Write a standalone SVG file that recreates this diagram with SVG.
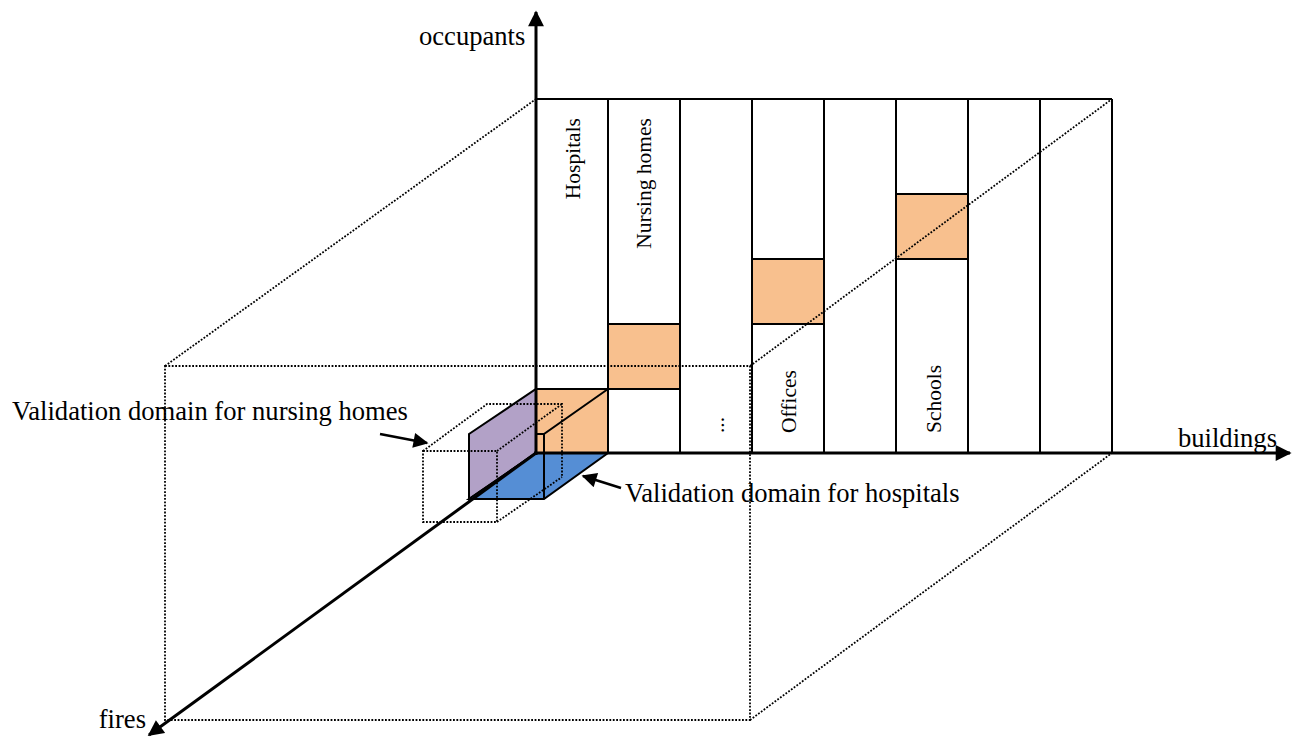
<svg xmlns="http://www.w3.org/2000/svg" width="1299" height="738" viewBox="0 0 1299 738">
  <style>
    .lbl { font-family: "Liberation Serif", "Times New Roman", serif; font-size: 26.6px; fill: #000; }
    .col { font-family: "Liberation Serif", "Times New Roman", serif; font-size: 21.5px; fill: #000; }
    .grid { stroke: #000; stroke-width: 2; fill: none; }
    .cell { fill: #F8C08E; stroke: #000; stroke-width: 2; }
    .dot { stroke: #000; stroke-width: 1.8; stroke-dasharray: 1.8 1.6; fill: none; }
    .axis { stroke: #000; stroke-width: 3; fill: none; }
    .edge { stroke: #000; stroke-width: 2; fill: none; }
  </style>
  <defs>
    <marker id="head" viewBox="0 0 10 10" refX="9" refY="5" markerWidth="5.5" markerHeight="5.3" orient="auto" markerUnits="strokeWidth">
      <path d="M0,0 L10,5 L0,10 Z" fill="#000"/>
    </marker>
    <marker id="headSmall" viewBox="0 0 10 10" refX="9" refY="5" markerWidth="6.5" markerHeight="6" orient="auto" markerUnits="strokeWidth">
      <path d="M0,0 L10,5 L0,10 Z" fill="#000"/>
    </marker>
  </defs>

  <rect width="1299" height="738" fill="#fff"/>

  <!-- building-type columns -->
  <g id="grid">
    <rect x="536" y="99" width="576" height="354" fill="#fff"/>
    <rect class="cell" x="536" y="389" width="72" height="64"/>
    <rect class="cell" x="608" y="324" width="72" height="65"/>
    <rect class="cell" x="752" y="259" width="72" height="65"/>
    <rect class="cell" x="896" y="194" width="72" height="65"/>
    <path class="grid" d="M536,99 H1112 M608,99 V453 M680,99 V453 M752,99 V453 M824,99 V453 M896,99 V453 M968,99 V453 M1040,99 V453 M1112,99 V453"/>
  </g>

  <g id="column-labels">
    <text class="col" transform="translate(580,118) rotate(-90)" text-anchor="end">Hospitals</text>
    <text class="col" transform="translate(651,118) rotate(-90)" text-anchor="end">Nursing homes</text>
    <text class="col" transform="translate(724,433) rotate(-90)">...</text>
    <text class="col" transform="translate(796,433) rotate(-90)">Offices</text>
    <text class="col" transform="translate(941,433) rotate(-90)">Schools</text>
  </g>

  <!-- validation domain for hospitals (solid box) -->
  <g id="hospitals-domain">
    <polygon points="469,434 536,389 536,453 469,499" fill="#B2A1C7" stroke="#000" stroke-width="2"/>
    <polygon points="536,453 608,453 544,499 469,499" fill="#558ED5" stroke="#000" stroke-width="2"/>
    <path class="edge" d="M608,389 L544,434 V499 M536,434 H544"/>
  </g>

  <!-- outer domain frame -->
  <g id="domain-frame">
    <path class="dot" d="M165,366 H750 V720 H165 Z"/>
    <path class="dot" d="M165,366 L536,99 M750,366 L1112,99 M750,720 L1112,453"/>
  </g>

  <!-- validation domain for nursing homes (dotted box) -->
  <g id="nursing-domain">
    <path class="dot" d="M423,451 H497 V522 H423 Z"/>
    <path class="dot" d="M423,451 L487,404 H562 V477 M497,451 L562,404 M497,522 L562,477"/>
  </g>

  <!-- axes -->
  <g id="axes">
    <line class="axis" x1="536" y1="455" x2="536" y2="12" marker-end="url(#head)"/>
    <line class="axis" x1="534" y1="453" x2="1290" y2="453" marker-end="url(#head)"/>
    <line class="axis" x1="536" y1="453" x2="149" y2="735" stroke-width="3.5" marker-end="url(#head)"/>
  </g>

  <g id="connectors">
    <line x1="380" y1="434" x2="427" y2="443" stroke="#000" stroke-width="2.5" marker-end="url(#headSmall)"/>
    <line x1="621" y1="488" x2="583" y2="476" stroke="#000" stroke-width="2.5" marker-end="url(#headSmall)"/>
  </g>

  <g id="axis-labels">
    <text class="lbl" x="419" y="45">occupants</text>
    <text class="lbl" x="1178" y="447">buildings</text>
    <text class="lbl" x="146" y="728" text-anchor="end">fires</text>
  </g>

  <g id="annotations">
    <text class="lbl" x="12" y="420">Validation domain for nursing homes</text>
    <text class="lbl" x="625" y="502">Validation domain for hospitals</text>
  </g>
</svg>
